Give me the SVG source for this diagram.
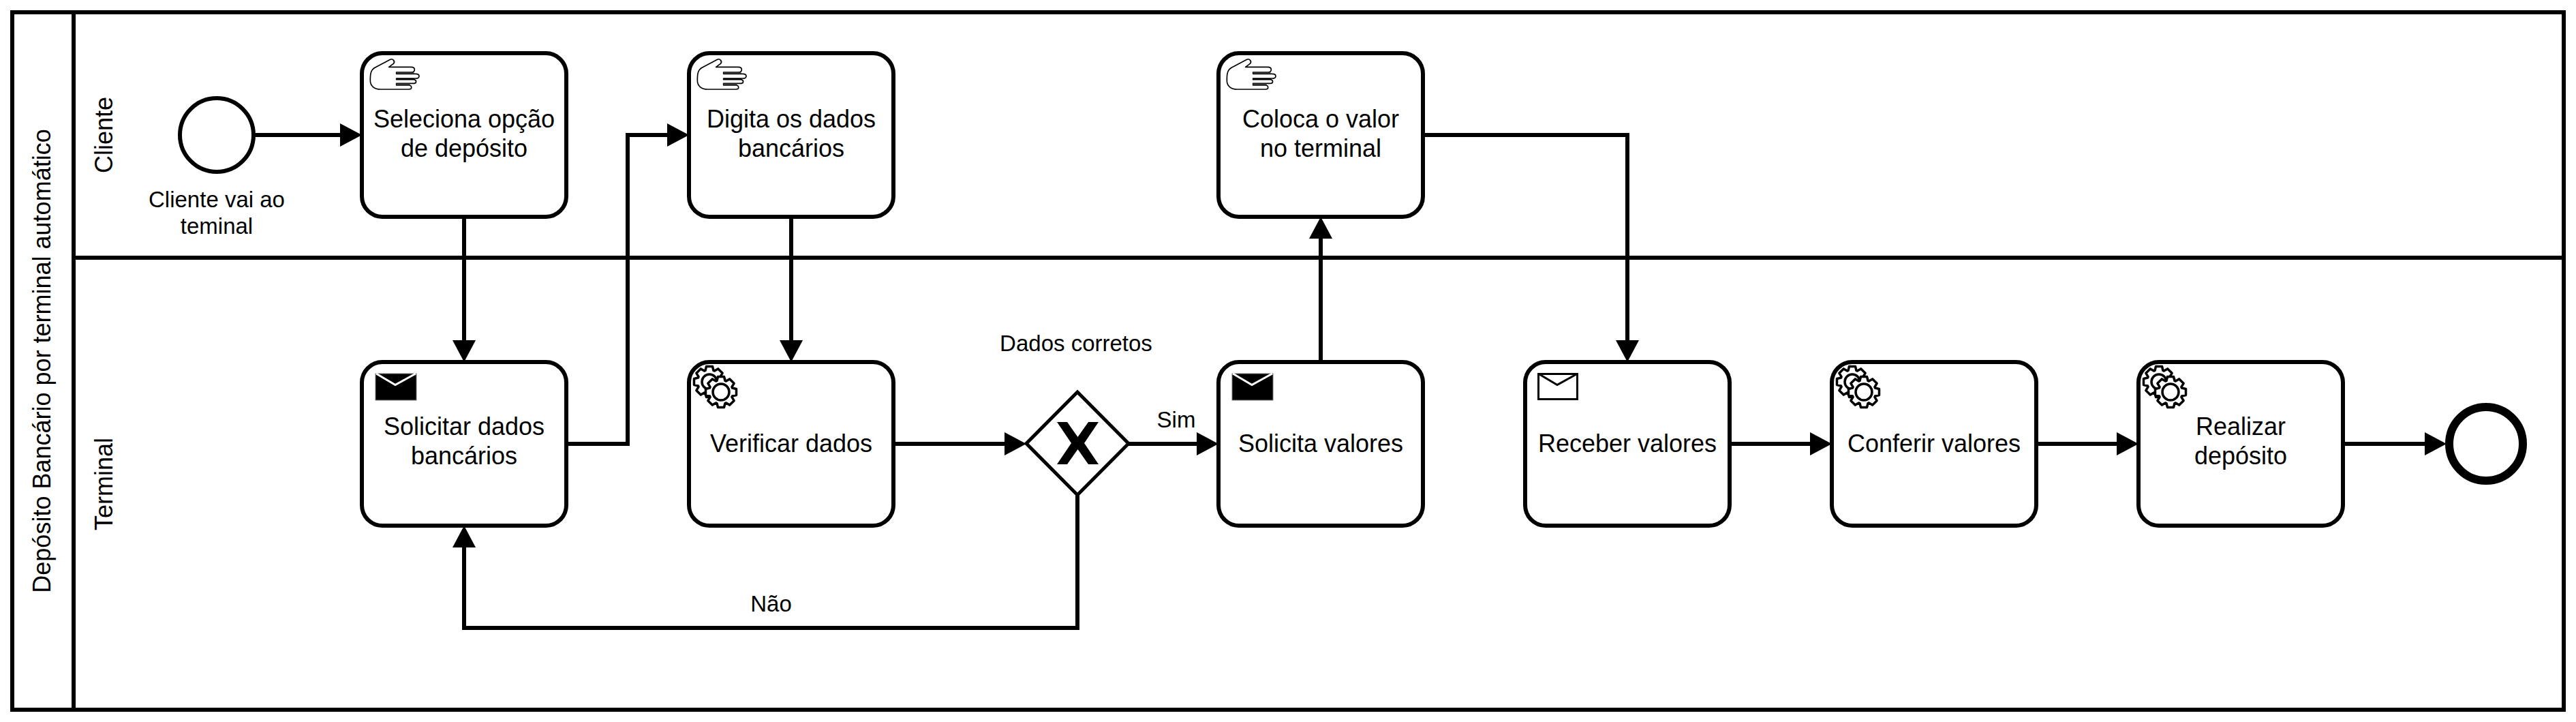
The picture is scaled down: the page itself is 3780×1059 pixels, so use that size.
<svg xmlns="http://www.w3.org/2000/svg" xmlns:xlink="http://www.w3.org/1999/xlink" width="3780" height="1059" viewBox="0 0 3780 1059">
<style>
text{font-family:"Liberation Sans",Arial,sans-serif;fill:#000}
.t36{font-size:36px;text-anchor:middle}
.t33{font-size:33px;text-anchor:middle}
.lane{fill:none;stroke:#000;stroke-width:6}
.task{fill:#fff;stroke:#000;stroke-width:6}
.edge{fill:none;stroke:#000;stroke-width:6;stroke-linejoin:miter}
.ic{fill:#fff;stroke:#000;stroke-width:3.500;stroke-linejoin:round}
</style>
<defs>
<marker id="arrow" markerUnits="userSpaceOnUse" markerWidth="32" markerHeight="34" refX="26" refY="17" orient="auto">
<path d="M0 0L32 17L0 34Z" fill="#000"/>
</marker>
<symbol id="hand" overflow="visible" viewBox="0 0 100 50" width="100" height="50">
<g transform="scale(0.3333)">
<path d="M130 175C130 150 130 130 150 118L218 82C228 76 242 90 232 100L212 115H310C330 115 330 138 310 138H245V145H330C350 145 350 165 330 165H245V170H322C335 172 335 187 322 187H245V195H300C315 197 315 213 300 213H175C150 213 130 200 130 175Z" fill="#fff" stroke="#000" stroke-width="5" stroke-linejoin="round"/>
<path d="M245 141H322M245 191H305" fill="none" stroke="#333" stroke-width="9"/>
</g>
</symbol>
<path id="gearShape" d="M16.5-6L22.5-4.500V4.500L16.500 6L15.900 7.400L19.100 12.700L12.700 19.100L7.400 15.900L6 16.500L4.500 22.500H-4.500L-6 16.500L-7.400 15.900L-12.700 19.100L-19.100 12.700L-15.900 7.400L-16.500 6L-22.500 4.500V-4.500L-16.500-6L-15.900-7.400L-19.100-12.700L-12.700-19.100L-7.400-15.900L-6-16.500L-4.500-22.500H4.500L6-16.500L7.400-15.900L12.700-19.100L19.100-12.700L15.900-7.400Z"/>
<g id="gears">
<use xlink:href="#gearShape" href="#gearShape" class="ic" x="30" y="29"/>
<circle class="ic" cx="30" cy="29" r="11"/>
<use xlink:href="#gearShape" href="#gearShape" class="ic" x="47" y="44"/>
<circle class="ic" cx="47" cy="44" r="12"/>
</g>
</defs>
<rect width="3780" height="1059" fill="#fff"/>
<g id="pool">
<rect class="lane" x="18" y="18" width="3744" height="1023"/>
<path class="lane" d="M108 18V1041M108 378H3762"/>
<text class="t36" transform="translate(74 529.500) rotate(-90)">Depósito Bancário por terminal automático</text>
</g>
<g id="lane-cliente"><text class="t36" transform="translate(165 198) rotate(-90)">Cliente</text></g>
<g id="lane-terminal"><text class="t36" transform="translate(165 710) rotate(-90)">Terminal</text></g>

<g id="start">
<circle cx="318" cy="198" r="54" fill="#fff" stroke="#000" stroke-width="6"/>
<text class="t33" x="318" y="304">Cliente vai ao</text>
<text class="t33" x="318" y="343">teminal</text>
</g>

<g id="task-seleciona">
<rect class="task" x="531" y="78" width="300" height="240" rx="30"/>
<use xlink:href="#hand" href="#hand" x="500" y="60"/>
<text class="t36" x="681" y="187">Seleciona opção</text>
<text class="t36" x="681" y="230">de depósito</text>
</g>
<g id="task-digita">
<rect class="task" x="1011" y="78" width="300" height="240" rx="30"/>
<use xlink:href="#hand" href="#hand" x="980" y="60"/>
<text class="t36" x="1161" y="187">Digita os dados</text>
<text class="t36" x="1161" y="230">bancários</text>
</g>
<g id="task-coloca">
<rect class="task" x="1788" y="78" width="300" height="240" rx="30"/>
<use xlink:href="#hand" href="#hand" x="1757" y="60"/>
<text class="t36" x="1938" y="187">Coloca o valor</text>
<text class="t36" x="1938" y="230">no terminal</text>
</g>
<g id="task-solicitar">
<rect class="task" x="531" y="531" width="300" height="240" rx="30"/>
<rect x="551" y="548" width="60" height="39" fill="#000" stroke="#777" stroke-width="1"/>
<path d="M552 548L580 564.500L610 548" fill="none" stroke="#fff" stroke-width="3"/>
<text class="t36" x="681" y="638">Solicitar dados</text>
<text class="t36" x="681" y="681">bancários</text>
</g>
<g id="task-verificar">
<rect class="task" x="1011" y="531" width="300" height="240" rx="30"/>
<use xlink:href="#gears" href="#gears" x="1011" y="531"/>
<text class="t36" x="1161" y="663">Verificar dados</text>
</g>
<g id="gateway">
<path d="M1581 575L1656 650.500L1581 726L1506 650.500Z" fill="#fff" stroke="#000" stroke-width="5"/>
<path d="M1551 619H1566L1581.500 641L1597 619H1612L1591 650L1612 681H1597L1581.500 659L1566 681H1551L1572 650Z" fill="#000"/>
<text class="t33" x="1579" y="515">Dados corretos</text>
</g>
<g id="task-solicita">
<rect class="task" x="1788" y="531" width="300" height="240" rx="30"/>
<rect x="1808" y="548" width="60" height="39" fill="#000" stroke="#777" stroke-width="1"/>
<path d="M1809 548L1837 564.500L1867 548" fill="none" stroke="#fff" stroke-width="3"/>
<text class="t36" x="1938" y="663">Solicita valores</text>
</g>
<g id="task-receber">
<rect class="task" x="2238" y="531" width="300" height="240" rx="30"/>
<rect x="2257.500" y="548.500" width="57" height="37" fill="#fff" stroke="#000" stroke-width="3"/>
<path d="M2258 548.500L2285 564.500L2314 548.500" fill="none" stroke="#000" stroke-width="3"/>
<text class="t36" x="2388" y="663">Receber valores</text>
</g>
<g id="task-conferir">
<rect class="task" x="2688" y="531" width="300" height="240" rx="30"/>
<use xlink:href="#gears" href="#gears" x="2688" y="531"/>
<text class="t36" x="2838" y="663">Conferir valores</text>
</g>
<g id="task-realizar">
<rect class="task" x="3138" y="531" width="300" height="240" rx="30"/>
<use xlink:href="#gears" href="#gears" x="3138" y="531"/>
<text class="t36" x="3288" y="638">Realizar</text>
<text class="t36" x="3288" y="681">depósito</text>
</g>
<g id="end"><circle cx="3648" cy="651" r="54" fill="#fff" stroke="#000" stroke-width="12"/></g>

<g id="connectors">
<path class="edge" marker-end="url(#arrow)" d="M372 198H525"/>
<path class="edge" marker-end="url(#arrow)" d="M681 318V525"/>
<path class="edge" marker-end="url(#arrow)" d="M831 651H921V198H1005"/>
<path class="edge" marker-end="url(#arrow)" d="M1161 318V525"/>
<path class="edge" marker-end="url(#arrow)" d="M1311 651H1500"/>
<path class="edge" marker-end="url(#arrow)" d="M1656 651H1782"/>
<path class="edge" marker-end="url(#arrow)" d="M1581 727V921H681V777"/>
<path class="edge" marker-end="url(#arrow)" d="M1938 531V324"/>
<path class="edge" marker-end="url(#arrow)" d="M2088 198H2388V525"/>
<path class="edge" marker-end="url(#arrow)" d="M2538 651H2682"/>
<path class="edge" marker-end="url(#arrow)" d="M2988 651H3132"/>
<path class="edge" marker-end="url(#arrow)" d="M3438 651H3584"/>
<text class="t33" x="1726" y="627">Sim</text>
<text class="t33" x="1131.500" y="897">Não</text>
</g>
</svg>
